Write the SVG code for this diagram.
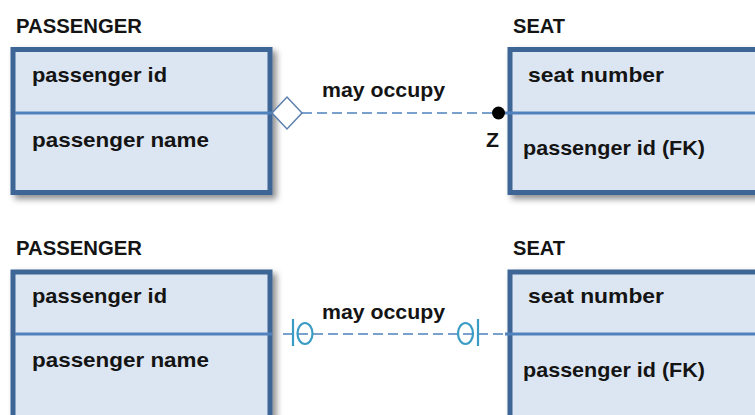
<svg xmlns="http://www.w3.org/2000/svg" width="755" height="415" viewBox="0 0 755 415">
<defs>
<filter id="sh" x="-10%" y="-10%" width="130%" height="130%">
<feDropShadow dx="4" dy="4" stdDeviation="3" flood-color="#000" flood-opacity="0.45"/>
</filter>
</defs>
<style>
text{font-family:"Liberation Sans",Arial,sans-serif;font-weight:bold;fill:#141414;}
.t{font-size:20.5px;}
.box{fill:#dce6f2;stroke:#3d6596;stroke-width:5;}
.div{stroke:#4f81bd;stroke-width:3;}
.dash{stroke:#4f81bd;stroke-width:1.5;stroke-dasharray:10 5;fill:none;}
.solid{stroke:#4f81bd;stroke-width:1.5;fill:none;}
.mk{stroke:#3a9cc5;stroke-width:2.2;fill:none;}
</style>
<rect width="755" height="415" fill="#fff"/>

<g id="passenger1">
<text class="t" x="16" y="33" textLength="126" lengthAdjust="spacingAndGlyphs">PASSENGER</text>
<rect class="box" x="13" y="49.5" width="257" height="143" filter="url(#sh)"/>
<line class="div" x1="15" y1="113" x2="272" y2="113"/>
<text class="t" x="32" y="82" textLength="135" lengthAdjust="spacingAndGlyphs">passenger id</text>
<text class="t" x="32" y="147" textLength="177" lengthAdjust="spacingAndGlyphs">passenger name</text>
</g>

<g id="seat1">
<text class="t" x="513" y="33" textLength="52" lengthAdjust="spacingAndGlyphs">SEAT</text>
<rect class="box" x="510" y="49.5" width="260" height="143" filter="url(#sh)"/>
<line class="div" x1="505" y1="113" x2="755" y2="113"/>
<text class="t" x="528" y="82" textLength="136" lengthAdjust="spacingAndGlyphs">seat number</text>
<text class="t" x="523" y="155" textLength="182" lengthAdjust="spacingAndGlyphs">passenger id (FK)</text>
</g>

<g id="passenger2">
<text class="t" x="16" y="255" textLength="126" lengthAdjust="spacingAndGlyphs">PASSENGER</text>
<rect class="box" x="13" y="272" width="257" height="160" filter="url(#sh)"/>
<line class="div" x1="15" y1="334" x2="272" y2="334"/>
<text class="t" x="32" y="303" textLength="135" lengthAdjust="spacingAndGlyphs">passenger id</text>
<text class="t" x="32" y="367" textLength="177" lengthAdjust="spacingAndGlyphs">passenger name</text>
</g>

<g id="seat2">
<text class="t" x="513" y="255" textLength="52" lengthAdjust="spacingAndGlyphs">SEAT</text>
<rect class="box" x="510" y="272" width="260" height="160" filter="url(#sh)"/>
<line class="div" x1="505" y1="334" x2="755" y2="334"/>
<text class="t" x="528" y="303" textLength="136" lengthAdjust="spacingAndGlyphs">seat number</text>
<text class="t" x="523" y="377" textLength="182" lengthAdjust="spacingAndGlyphs">passenger id (FK)</text>
</g>

<g id="connectors">
<!-- top -->
<polygon points="272,113 287,97 302,113 287,129" fill="#fff" stroke="#5b7fad" stroke-width="1.5"/>
<line class="dash" x1="302" y1="113" x2="492" y2="113"/>
<line class="solid" x1="498" y1="113" x2="508" y2="113"/>
<circle cx="498.5" cy="113" r="6.5" fill="#000"/>
<text x="322" y="97" style="font-size:20.5px" textLength="123" lengthAdjust="spacingAndGlyphs">may occupy</text>
<text x="486" y="146.5" style="font-size:21px" textLength="13" lengthAdjust="spacingAndGlyphs">Z</text>
<!-- bottom -->
<line class="dash" x1="283" y1="334" x2="507" y2="334" stroke-dasharray="7 5 10 5"/>
<line class="mk" x1="293" y1="319" x2="293" y2="346"/>
<ellipse class="mk" cx="305" cy="333.5" rx="7.5" ry="10.5"/>
<ellipse class="mk" cx="465.5" cy="333.5" rx="7.5" ry="10.5"/>
<line class="mk" x1="478" y1="319" x2="478" y2="346"/>
<text x="322" y="319" style="font-size:20.5px" textLength="123" lengthAdjust="spacingAndGlyphs">may occupy</text>
</g>
</svg>
